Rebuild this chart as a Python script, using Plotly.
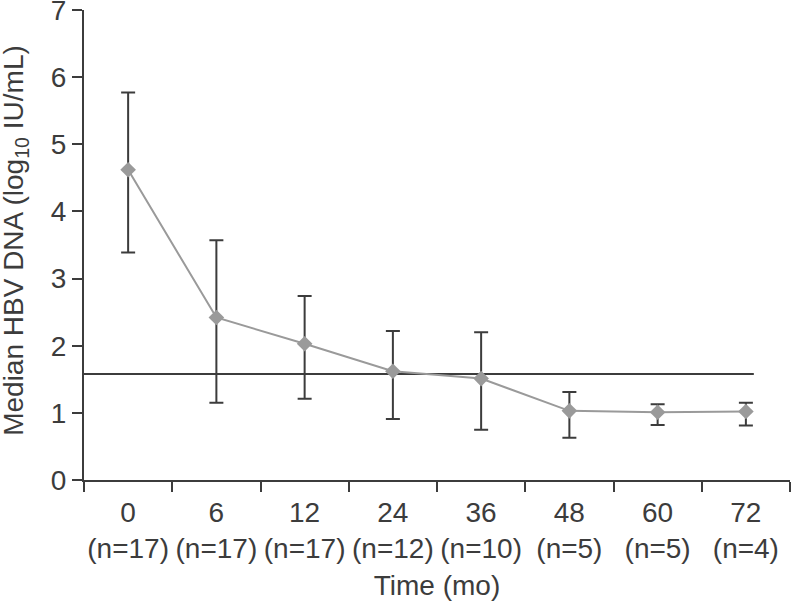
import plotly.graph_objects as go

months = ["0", "6", "12", "24", "36", "48", "60", "72"]
n_counts = [17, 17, 17, 12, 10, 5, 5, 4]
median_vals = [4.62, 2.42, 2.03, 1.62, 1.51, 1.03, 1.01, 1.02]
upper_vals = [5.77, 3.57, 2.74, 2.22, 2.20, 1.31, 1.13, 1.15]
lower_vals = [3.39, 1.15, 1.21, 0.91, 0.75, 0.63, 0.82, 0.81]
reference_level = 1.58

categories = [f"{m}<br>(n={n})" for m, n in zip(months, n_counts)]
err_plus = [u - m for u, m in zip(upper_vals, median_vals)]
err_minus = [m - l for m, l in zip(median_vals, lower_vals)]

AX = "#3c3c3c"
FONT = "Liberation Sans, Arial, sans-serif"
FS = 28

fig = go.Figure()
fig.add_trace(go.Scatter(
    x=categories, y=median_vals, mode="lines+markers",
    line=dict(color="#9a9a9a", width=2),
    marker=dict(symbol="diamond", size=12, color="#9a9a9a"),
    error_y=dict(type="data", symmetric=False, array=err_plus, arrayminus=err_minus,
                 color=AX, thickness=2, width=7),
    showlegend=False,
))

fig.add_shape(type="line", xref="x", yref="y", x0=-0.5, x1=7.09,
              y0=reference_level, y1=reference_level,
              line=dict(color=AX, width=2), layer="below")

fig.add_annotation(
    text="Median HBV DNA (log<sub>10</sub> IU/mL)", textangle=-90,
    xref="paper", yref="paper", x=-0.097, y=0.51,
    xanchor="center", yanchor="middle", showarrow=False,
    font=dict(family=FONT, size=FS, color=AX),
)

fig.update_layout(
    width=791, height=607,
    margin=dict(l=84, r=1, t=10, b=127),
    paper_bgcolor="white", plot_bgcolor="white",
    font=dict(family=FONT, size=FS, color=AX),
)
fig.update_xaxes(
    type="category", range=[-0.5, 7.5], tickson="boundaries", tickangle=0,
    ticks="outside", ticklen=10, tickwidth=2, tickcolor=AX,
    showline=True, linecolor=AX, linewidth=2, showgrid=False, zeroline=False,
    tickfont=dict(size=FS, color=AX), automargin=False, ticklabelstandoff=6,
    ticklabeloverflow="allow",
    title=dict(text="Time (mo)", font=dict(size=FS, color=AX), standoff=12),
)
fig.update_yaxes(
    range=[0, 7], dtick=1, tick0=0,
    ticks="outside", ticklen=10, tickwidth=2, tickcolor=AX,
    showline=True, linecolor=AX, linewidth=2, showgrid=False, zeroline=False,
    tickfont=dict(size=FS, color=AX), automargin=False, ticklabelstandoff=0,
    ticklabeloverflow="allow",
)

fig.write_html(
    "out.html",
    config={"displayModeBar": False},
    post_script="document.body.style.margin='0';document.body.style.overflow='hidden';",
)
